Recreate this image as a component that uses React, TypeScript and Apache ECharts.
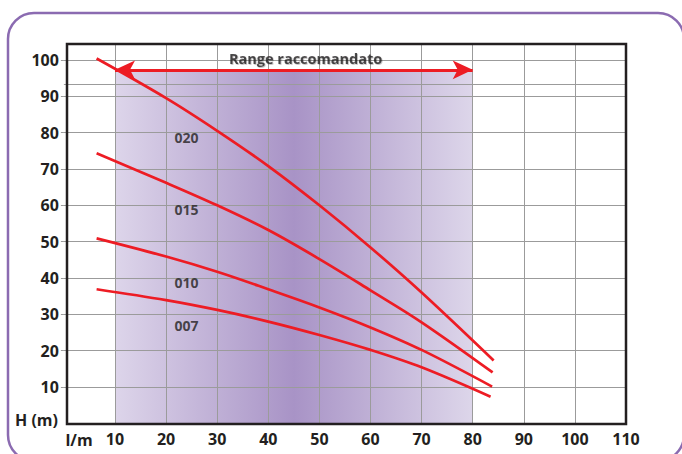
import React, { useEffect, useRef } from "react";
import * as echarts from "echarts";

// ---- data ----
const xTicks = [0, 10, 20, 30, 40, 50, 60, 70, 80, 90, 100, 110];
const yTicks = [0, 10, 20, 30, 40, 50, 60, 70, 80, 90, 100];
const yLabelTicks = [10, 20, 30, 40, 50, 60, 70, 80, 90, 100];

const flow020 = [6.4, 20, 30, 40, 50, 60, 70, 84.1];
const head020 = [100.4, 89.5, 80.5, 70.8, 60.0, 48.4, 36.0, 17.3];

const flow015 = [6.4, 20, 30, 40, 50, 60, 70, 83.9];
const head015 = [74.3, 66.2, 60.0, 53.2, 45.2, 36.6, 27.8, 14.0];

const flow010 = [6.4, 20, 30, 40, 50, 60, 70, 83.8];
const head010 = [50.9, 45.9, 41.7, 36.9, 31.9, 26.4, 20.2, 10.1];

const flow007 = [6.4, 20, 30, 40, 50, 60, 70, 83.5];
const head007 = [36.9, 33.9, 31.2, 28.0, 24.3, 20.2, 15.4, 7.3];

const curveNames = ["020", "015", "010", "007"];
const curveLabelX = [24.0, 24.0, 24.0, 24.0];
const curveLabelY = [78.7, 58.9, 38.7, 27.0];

const rangeFrom = 10;
const rangeTo = 80;
const rangeTop = 97.3;
const rangeTitle = "Range raccomandato";
const rangeTitlePos = [47.3, 100.5];
const extraGridLine = 93.3;

const xName = "l/m";
const yName = "H (m)";

const pair = (xs: number[], ys: number[]) => xs.map((x, i) => [x, ys[i]]);

const RED = "#ed1c24";
const INK = "#231f20";
const GRID = "#9b9b9b";
const FONT = "'Open Sans', 'Noto Sans', sans-serif";

export default function App() {
  const ref = useRef<HTMLDivElement>(null);

  useEffect(() => {
    if (!ref.current) return;
    const chart = echarts.init(ref.current, undefined, { renderer: "svg" });

    const curves = [
      pair(flow020, head020),
      pair(flow015, head015),
      pair(flow010, head010),
      pair(flow007, head007),
    ];

    const gridLeft = 63.9;
    const gridRight = 682 - 626;
    const gridTop = 44;
    const gridBottom = 454 - 423.3;

    const option: any = {
      animation: false,
      backgroundColor: "#ffffff",
      grid: { left: gridLeft, right: gridRight, top: gridTop, bottom: gridBottom, containLabel: false },
      xAxis: {
        type: "value",
        min: xTicks[0],
        max: xTicks[xTicks.length - 1],
        interval: 10,
        z: 3,
        axisLine: { show: false },
        axisTick: { show: false },
        splitLine: { show: true, showMinLine: false, lineStyle: { color: GRID, width: 1 } },
        axisLabel: {
          margin: 8,
          fontFamily: FONT,
          fontWeight: "bold",
          fontSize: 16,
          color: INK,
          formatter: (v: number) => (v === 0 ? "" : String(v)),
        },
      },
      yAxis: {
        type: "value",
        min: yTicks[0],
        max: 104.4,
        interval: 10,
        z: 3,
        axisLine: { show: false },
        axisTick: { show: true, length: 3, customValues: yLabelTicks, lineStyle: { color: GRID } },
        splitLine: { show: true, lineStyle: { color: GRID, width: 1 } },
        axisLabel: {
          margin: 5,
          customValues: yLabelTicks,
          fontFamily: FONT,
          fontWeight: "bold",
          fontSize: 16,
          color: INK,
          formatter: (v: number) => (yLabelTicks.indexOf(v) < 0 ? "" : String(v)),
        },
      },
      series: [
        {
          type: "line",
          data: [],
          z: 1,
          silent: true,
          markArea: {
            silent: true,
            itemStyle: {
              color: new echarts.graphic.LinearGradient(0, 0, 1, 0, [
                { offset: 0, color: "#ddd5ea" },
                { offset: 0.5, color: "#a893c6" },
                { offset: 1, color: "#ddd6ea" },
              ]),
            },
            data: [[{ coord: [rangeFrom, 0] }, { coord: [rangeTo, rangeTop] }]],
          },
        },
        {
          type: "line",
          data: [],
          z: 2,
          silent: true,
          markLine: {
            silent: true,
            symbol: ["none", "none"],
            label: { show: false },
            lineStyle: { color: GRID, width: 1, type: "solid" },
            data: [{ yAxis: extraGridLine }],
          },
        },
        ...curves.map((d, i) => ({
          name: curveNames[i],
          type: "line",
          data: d,
          z: 5,
          smooth: 0.35,
          showSymbol: false,
          symbol: "none",
          lineStyle: { color: RED, width: 2.7 },
        })),
        {
          type: "scatter",
          z: 6,
          symbolSize: 0,
          silent: true,
          data: [
            ...curveNames.map((n, i) => ({ name: n, value: [curveLabelX[i], curveLabelY[i]] })),
            {
              name: rangeTitle,
              value: rangeTitlePos,
              label: {
                fontSize: 14.5,
                textShadowColor: "rgba(0,0,0,0.35)",
                textShadowOffsetX: 0.8,
                textShadowOffsetY: 0.8,
                textShadowBlur: 1,
              },
            },
          ],
          label: {
            show: true,
            position: "inside",
            formatter: (p: any) => p.name,
            fontFamily: FONT,
            fontWeight: "bold",
            fontSize: 14,
            color: INK,
          },
          markLine: {
            silent: true,
            symbol: ["arrow", "arrow"],
            symbolSize: [14, 20],
            label: { show: false },
            lineStyle: { color: RED, width: 3, type: "solid" },
            data: [[{ coord: [rangeFrom, rangeTop] }, { coord: [rangeTo, rangeTop] }]],
          },
        },
      ],
      graphic: [
        {
          type: "rect",
          z: 10,
          silent: true,
          shape: { x: 67, y: 44, width: 559, height: 380 },
          style: { fill: "none", stroke: INK, lineWidth: 2.5 },
        },
        {
          type: "rect",
          z: 10,
          silent: true,
          shape: { x: 8, y: 13, width: 676, height: 448, r: 26 },
          style: { fill: "none", stroke: "#8b6bb1", lineWidth: 2.5 },
        },
        {
          type: "text",
          z: 10,
          x: 79,
          y: 439.5,
          style: {
            text: xName,
            fontFamily: FONT,
            fontWeight: "bold",
            fontSize: 16,
            fill: INK,
            align: "center",
            verticalAlign: "middle",
          },
        },
        {
          type: "text",
          z: 10,
          x: 36.5,
          y: 420,
          style: {
            text: yName,
            fontFamily: FONT,
            fontWeight: "bold",
            fontSize: 16,
            fill: INK,
            align: "center",
            verticalAlign: "middle",
          },
        },
      ],
    };

    chart.setOption(option);
    return () => chart.dispose();
  }, []);

  return (
    <div
      ref={ref}
      style={{ position: "fixed", left: 0, top: 0, width: 682, height: 454, background: "#fff" }}
    />
  );
}
